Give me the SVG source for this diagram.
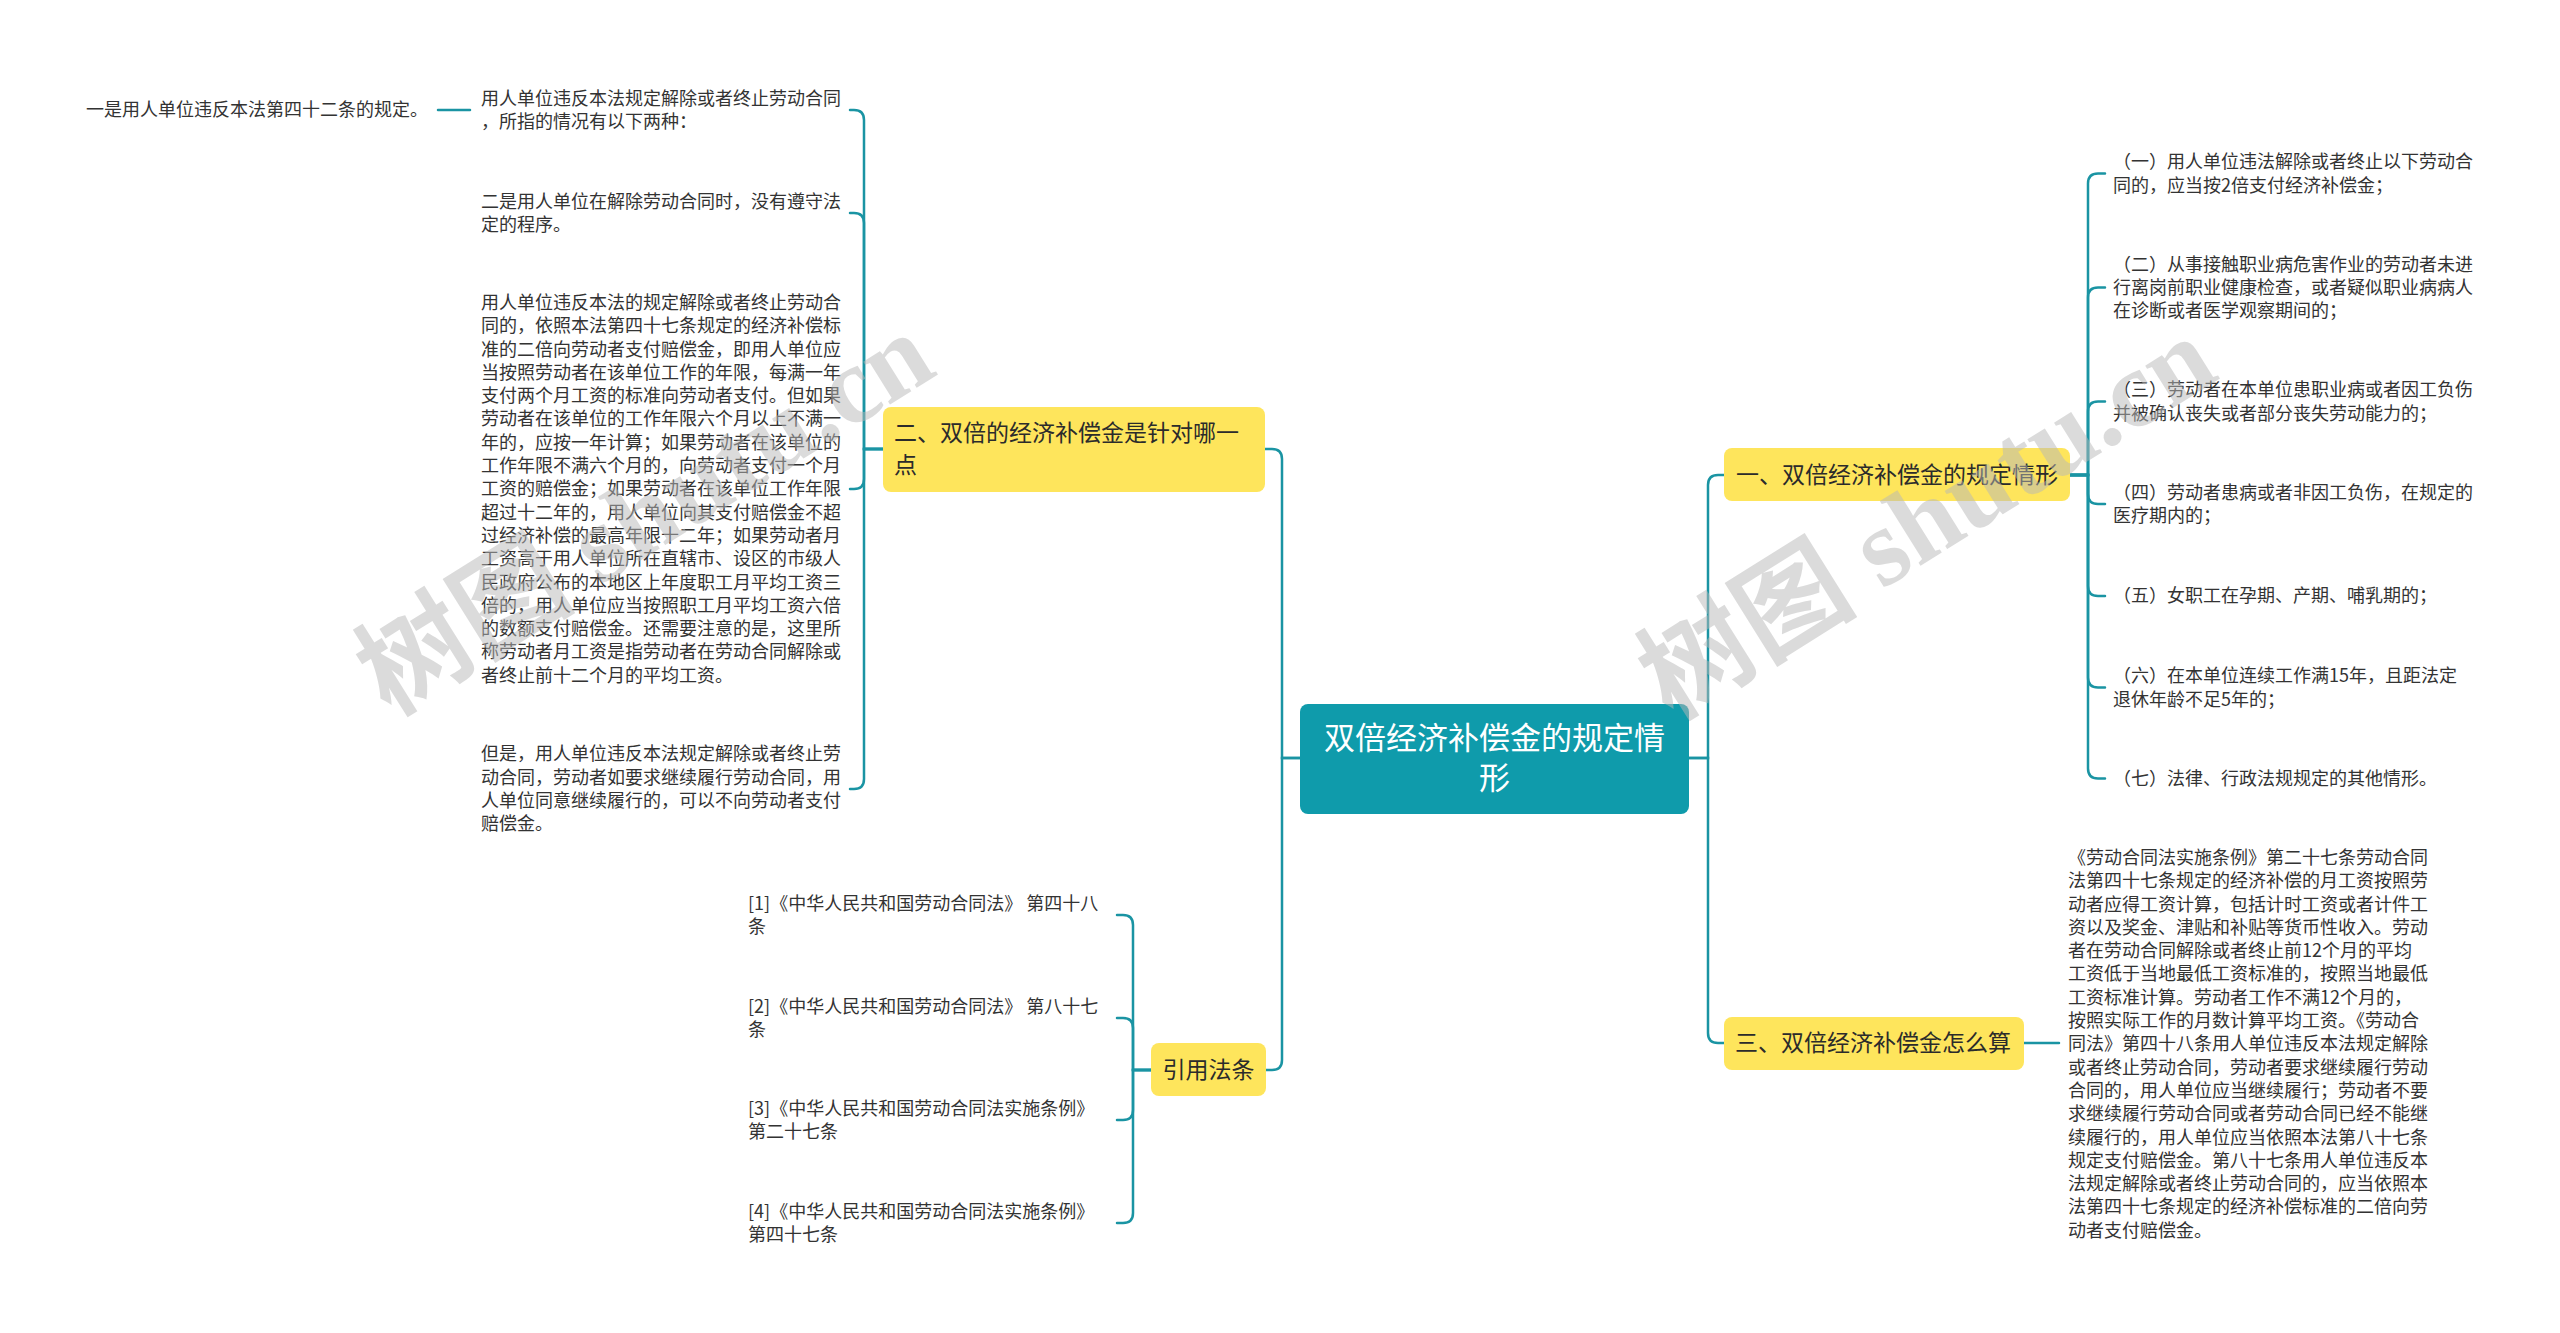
<svg xmlns="http://www.w3.org/2000/svg" width="2560" height="1333" viewBox="0 0 2560 1333">
<style>
.conn{fill:none;stroke:#1a94a3;stroke-width:2.5;stroke-linecap:round}
.leaf{font-family:"Noto Sans CJK SC","Noto Sans",sans-serif;font-size:18px;fill:#333333}
.l1{font-family:"Noto Sans CJK SC","Noto Sans",sans-serif;font-size:23px;fill:#2b2b2b}
.l1box{fill:#fee55c}
.root{font-family:"Noto Sans CJK SC","Noto Sans",sans-serif;font-size:31px;fill:#ffffff}
.wm{font-family:"Liberation Serif","Noto Sans CJK SC",serif;font-size:110px;font-weight:bold;fill:#b8b8b8;opacity:0.5}
</style>
<rect width="2560" height="1333" fill="#ffffff"/>

<g id="connectors">
<path class="conn" d="M1300,758 H1282 V459 Q1282,449 1272,449 H1265"/>
<path class="conn" d="M1300,758 H1282 V1060 Q1282,1070 1272,1070 H1266"/>
<path class="conn" d="M1689,758 H1708 V485 Q1708,475 1718,475 H1724"/>
<path class="conn" d="M1689,758 H1708 V1033 Q1708,1043 1718,1043 H1724"/>
<path class="conn" d="M883,449 H864 V120 Q864,110 854,110 H850"/>
<path class="conn" d="M883,449 H864 V223 Q864,213 854,213 H850"/>
<path class="conn" d="M883,449 H864 V479 Q864,489 854,489 H850"/>
<path class="conn" d="M883,449 H864 V779 Q864,789 854,789 H850"/>
<path class="conn" d="M470,110 H438"/>
<path class="conn" d="M1151,1070 H1133 V925 Q1133,915 1123,915 H1117"/>
<path class="conn" d="M1151,1070 H1133 V1028 Q1133,1018 1123,1018 H1117"/>
<path class="conn" d="M1151,1070 H1133 V1110 Q1133,1120 1123,1120 H1117"/>
<path class="conn" d="M1151,1070 H1133 V1213 Q1133,1223 1123,1223 H1117"/>
<path class="conn" d="M2070,475 H2088 V183.5 Q2088,173.5 2098,173.5 H2105"/>
<path class="conn" d="M2070,475 H2088 V297.5 Q2088,287.5 2098,287.5 H2105"/>
<path class="conn" d="M2070,475 H2088 V411.5 Q2088,401.5 2098,401.5 H2105"/>
<path class="conn" d="M2070,475 H2088 V494 Q2088,504 2098,504 H2105"/>
<path class="conn" d="M2070,475 H2088 V586 Q2088,596 2098,596 H2105"/>
<path class="conn" d="M2070,475 H2088 V677.5 Q2088,687.5 2098,687.5 H2105"/>
<path class="conn" d="M2070,475 H2088 V768.5 Q2088,778.5 2098,778.5 H2105"/>
<path class="conn" d="M2024,1043 H2059"/>
</g>

<g id="root">
<rect x="1300" y="704" width="389" height="110" rx="8" fill="#0f9bab"/>
<text class="root" text-anchor="middle"><tspan x="1494.5" y="749">双倍经济补偿金的规定情</tspan><tspan x="1494.5" y="789">形</tspan></text>
</g>

<g id="node-er">
<rect class="l1box" x="883" y="407" width="382" height="85" rx="8"/>
<text class="l1"><tspan x="894" y="441">二、双倍的经济补偿金是针对哪一</tspan><tspan x="894" y="473">点</tspan></text>
</g>

<g id="node-yinyong">
<rect class="l1box" x="1151" y="1043" width="115" height="53" rx="8"/>
<text class="l1" x="1208.5" y="1078" text-anchor="middle">引用法条</text>
</g>

<g id="node-yi">
<rect class="l1box" x="1724" y="448" width="346" height="53" rx="8"/>
<text class="l1" x="1736" y="483">一、双倍经济补偿金的规定情形</text>
</g>

<g id="node-san">
<rect class="l1box" x="1724" y="1017" width="300" height="53" rx="8"/>
<text class="l1" x="1735" y="1051">三、双倍经济补偿金怎么算</text>
</g>

<g id="leaf-er-1">
<text class="leaf"><tspan x="481" y="104.6">用人单位违反本法规定解除或者终止劳动合同</tspan><tspan x="481" y="128">，所指的情况有以下两种：</tspan></text>
</g>
<g id="leaf-er-1-1">
<text class="leaf" x="86" y="116.3">一是用人单位违反本法第四十二条的规定。</text>
</g>
<g id="leaf-er-2">
<text class="leaf"><tspan x="481" y="207.6">二是用人单位在解除劳动合同时，没有遵守法</tspan><tspan x="481" y="231">定的程序。</tspan></text>
</g>
<g id="leaf-er-3">
<text class="leaf"><tspan x="481" y="308.9">用人单位违反本法的规定解除或者终止劳动合</tspan><tspan x="481" y="332.2">同的，依照本法第四十七条规定的经济补偿标</tspan><tspan x="481" y="355.5">准的二倍向劳动者支付赔偿金，即用人单位应</tspan><tspan x="481" y="378.8">当按照劳动者在该单位工作的年限，每满一年</tspan><tspan x="481" y="402.1">支付两个月工资的标准向劳动者支付。但如果</tspan><tspan x="481" y="425.4">劳动者在该单位的工作年限六个月以上不满一</tspan><tspan x="481" y="448.7">年的，应按一年计算；如果劳动者在该单位的</tspan><tspan x="481" y="472">工作年限不满六个月的，向劳动者支付一个月</tspan><tspan x="481" y="495.3">工资的赔偿金；如果劳动者在该单位工作年限</tspan><tspan x="481" y="518.6">超过十二年的，用人单位向其支付赔偿金不超</tspan><tspan x="481" y="541.9">过经济补偿的最高年限十二年；如果劳动者月</tspan><tspan x="481" y="565.2">工资高于用人单位所在直辖市、设区的市级人</tspan><tspan x="481" y="588.5">民政府公布的本地区上年度职工月平均工资三</tspan><tspan x="481" y="611.8">倍的，用人单位应当按照职工月平均工资六倍</tspan><tspan x="481" y="635.1">的数额支付赔偿金。还需要注意的是，这里所</tspan><tspan x="481" y="658.4">称劳动者月工资是指劳动者在劳动合同解除或</tspan><tspan x="481" y="681.7">者终止前十二个月的平均工资。</tspan></text>
</g>
<g id="leaf-er-4">
<text class="leaf"><tspan x="481" y="760.4">但是，用人单位违反本法规定解除或者终止劳</tspan><tspan x="481" y="783.7">动合同，劳动者如要求继续履行劳动合同，用</tspan><tspan x="481" y="807">人单位同意继续履行的，可以不向劳动者支付</tspan><tspan x="481" y="830.3">赔偿金。</tspan></text>
</g>

<g id="leaf-ref-1">
<text class="leaf"><tspan x="748" y="909.6">[1]《中华人民共和国劳动合同法》 第四十八</tspan><tspan x="748" y="933">条</tspan></text>
</g>
<g id="leaf-ref-2">
<text class="leaf"><tspan x="748" y="1012.6">[2]《中华人民共和国劳动合同法》 第八十七</tspan><tspan x="748" y="1036">条</tspan></text>
</g>
<g id="leaf-ref-3">
<text class="leaf"><tspan x="748" y="1114.6">[3]《中华人民共和国劳动合同法实施条例》</tspan><tspan x="748" y="1138">第二十七条</tspan></text>
</g>
<g id="leaf-ref-4">
<text class="leaf"><tspan x="748" y="1217.6">[4]《中华人民共和国劳动合同法实施条例》</tspan><tspan x="748" y="1241">第四十七条</tspan></text>
</g>

<g id="leaf-yi-1">
<text class="leaf"><tspan x="2113" y="168.1">（一）用人单位违法解除或者终止以下劳动合</tspan><tspan x="2113" y="191.5">同的，应当按2倍支付经济补偿金；</tspan></text>
</g>
<g id="leaf-yi-2">
<text class="leaf"><tspan x="2113" y="270.5">（二）从事接触职业病危害作业的劳动者未进</tspan><tspan x="2113" y="293.8">行离岗前职业健康检查，或者疑似职业病病人</tspan><tspan x="2113" y="317.1">在诊断或者医学观察期间的；</tspan></text>
</g>
<g id="leaf-yi-3">
<text class="leaf"><tspan x="2113" y="396.1">（三）劳动者在本单位患职业病或者因工负伤</tspan><tspan x="2113" y="419.5">并被确认丧失或者部分丧失劳动能力的；</tspan></text>
</g>
<g id="leaf-yi-4">
<text class="leaf"><tspan x="2113" y="498.6">（四）劳动者患病或者非因工负伤，在规定的</tspan><tspan x="2113" y="522">医疗期内的；</tspan></text>
</g>
<g id="leaf-yi-5">
<text class="leaf" x="2113" y="602.3">（五）女职工在孕期、产期、哺乳期的；</text>
</g>
<g id="leaf-yi-6">
<text class="leaf"><tspan x="2113" y="682.1">（六）在本单位连续工作满15年，且距法定</tspan><tspan x="2113" y="705.5">退休年龄不足5年的；</tspan></text>
</g>
<g id="leaf-yi-7">
<text class="leaf" x="2113" y="784.8">（七）法律、行政法规规定的其他情形。</text>
</g>

<g id="leaf-san-1">
<text class="leaf"><tspan x="2068" y="863.9">《劳动合同法实施条例》第二十七条劳动合同</tspan><tspan x="2068" y="887.2">法第四十七条规定的经济补偿的月工资按照劳</tspan><tspan x="2068" y="910.5">动者应得工资计算，包括计时工资或者计件工</tspan><tspan x="2068" y="933.8">资以及奖金、津贴和补贴等货币性收入。劳动</tspan><tspan x="2068" y="957.1">者在劳动合同解除或者终止前12个月的平均</tspan><tspan x="2068" y="980.4">工资低于当地最低工资标准的，按照当地最低</tspan><tspan x="2068" y="1003.7">工资标准计算。劳动者工作不满12个月的，</tspan><tspan x="2068" y="1027">按照实际工作的月数计算平均工资。《劳动合</tspan><tspan x="2068" y="1050.3">同法》第四十八条用人单位违反本法规定解除</tspan><tspan x="2068" y="1073.6">或者终止劳动合同，劳动者要求继续履行劳动</tspan><tspan x="2068" y="1096.9">合同的，用人单位应当继续履行；劳动者不要</tspan><tspan x="2068" y="1120.2">求继续履行劳动合同或者劳动合同已经不能继</tspan><tspan x="2068" y="1143.5">续履行的，用人单位应当依照本法第八十七条</tspan><tspan x="2068" y="1166.8">规定支付赔偿金。第八十七条用人单位违反本</tspan><tspan x="2068" y="1190.1">法规定解除或者终止劳动合同的，应当依照本</tspan><tspan x="2068" y="1213.4">法第四十七条规定的经济补偿标准的二倍向劳</tspan><tspan x="2068" y="1236.7">动者支付赔偿金。</tspan></text>
</g>

<g id="watermarks">
<text class="wm" text-anchor="middle" dominant-baseline="central" transform="translate(645,514) rotate(-32)">树图 shutu.cn</text>
<text class="wm" text-anchor="middle" dominant-baseline="central" transform="translate(1927,518) rotate(-32)">树图 shutu.cn</text>
</g>
</svg>
